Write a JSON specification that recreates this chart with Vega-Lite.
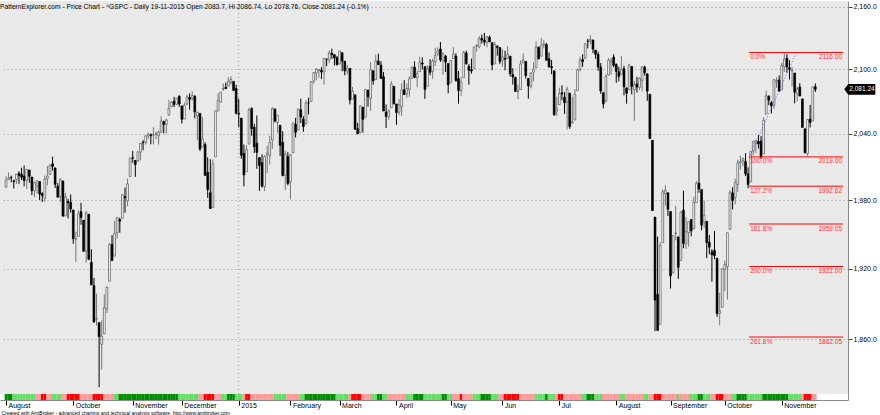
{
"$schema": "https://vega.github.io/schema/vega-lite/v6.json",
"autosize": {"type": "pad"},
"padding": {"left": 0, "top": 0, "right": 0, "bottom": 0},
"background": "white",
"bounds": "flush",
"spacing": 0,
"config": {"view": {"stroke": null}, "font": "Liberation Sans", "axis": {"labelFont": "Liberation Sans", "titleFont": "Liberation Sans"}},
"datasets": {
"bars": [
{"i":0,"o":1991.74,"h":2001.95,"l":1991.74,"c":1997.92,"r":"G"},
{"i":1,"o":1998.59,"h":2005.04,"l":1998.59,"c":2000.02,"r":"G"},
{"i":2,"o":2000.54,"h":2002.14,"l":1996.20,"c":2000.12,"r":"G"},
{"i":3,"o":1997.42,"h":1998.55,"l":1990.52,"c":1996.74,"r":"g"},
{"i":4,"o":1998.45,"h":2003.38,"l":1994.65,"c":2003.37,"r":"g"},
{"i":5,"o":2004.07,"h":2006.12,"l":1994.85,"c":2002.28,"r":"g"},
{"i":6,"o":2003.57,"h":2009.28,"l":1998.14,"c":2000.72,"r":"g"},
{"i":7,"o":2001.67,"h":2011.17,"l":1992.54,"c":1997.65,"r":"g"},
{"i":8,"o":1998.00,"h":2007.71,"l":1990.10,"c":2007.71,"r":"g"},
{"i":9,"o":2007.17,"h":2007.17,"l":1995.60,"c":2001.54,"r":"g"},
{"i":10,"o":2000.73,"h":2001.01,"l":1984.61,"c":1988.44,"r":"g"},
{"i":11,"o":1988.41,"h":1996.66,"l":1982.99,"c":1995.69,"r":"g"},
{"i":12,"o":1992.85,"h":1997.65,"l":1985.93,"c":1997.45,"r":"p"},
{"i":13,"o":1996.74,"h":1996.74,"l":1980.26,"c":1985.54,"r":"p"},
{"i":14,"o":1986.04,"h":1987.18,"l":1978.48,"c":1984.13,"r":"R"},
{"i":15,"o":1981.93,"h":2002.28,"l":1979.06,"c":1998.98,"r":"R"},
{"i":16,"o":1999.30,"h":2010.74,"l":1993.29,"c":2001.57,"r":"p"},
{"i":17,"o":2003.07,"h":2012.34,"l":2003.07,"c":2011.36,"r":"p"},
{"i":18,"o":2012.74,"h":2019.26,"l":2006.59,"c":2010.40,"r":"g"},
{"i":19,"o":2009.08,"h":2009.08,"l":1991.01,"c":1994.29,"r":"g"},
{"i":20,"o":1992.78,"h":1995.41,"l":1982.77,"c":1982.77,"r":"g"},
{"i":21,"o":1983.34,"h":1999.79,"l":1978.63,"c":1998.30,"r":"g"},
{"i":22,"o":1997.32,"h":1997.32,"l":1965.99,"c":1965.99,"r":"p"},
{"i":23,"o":1966.22,"h":1986.37,"l":1966.22,"c":1982.85,"r":"p"},
{"i":24,"o":1978.96,"h":1981.28,"l":1964.04,"c":1977.80,"r":"R"},
{"i":25,"o":1978.21,"h":1985.17,"l":1968.96,"c":1972.29,"r":"R"},
{"i":26,"o":1971.44,"h":1971.44,"l":1941.72,"c":1946.16,"r":"R"},
{"i":27,"o":1945.83,"h":1952.32,"l":1926.03,"c":1946.17,"r":"R"},
{"i":28,"o":1948.12,"h":1971.19,"l":1948.12,"c":1967.90,"r":"R"},
{"i":29,"o":1970.01,"h":1977.84,"l":1958.43,"c":1964.82,"r":"p"},
{"i":30,"o":1962.36,"h":1962.36,"l":1935.10,"c":1935.10,"r":"p"},
{"i":31,"o":1935.55,"h":1970.36,"l":1925.25,"c":1968.89,"r":"p"},
{"i":32,"o":1967.68,"h":1967.68,"l":1927.56,"c":1928.21,"r":"p"},
{"i":33,"o":1925.63,"h":1936.98,"l":1906.05,"c":1906.13,"r":"p"},
{"i":34,"o":1905.65,"h":1912.09,"l":1874.14,"c":1874.74,"r":"R"},
{"i":35,"o":1877.11,"h":1898.71,"l":1871.79,"c":1877.70,"r":"R"},
{"i":36,"o":1874.18,"h":1874.18,"l":1820.66,"c":1862.49,"r":"R"},
{"i":37,"o":1855.95,"h":1876.01,"l":1835.02,"c":1862.76,"r":"R"},
{"i":38,"o":1864.91,"h":1898.16,"l":1864.91,"c":1886.76,"r":"p"},
{"i":39,"o":1885.62,"h":1905.03,"l":1882.30,"c":1904.01,"r":"p"},
{"i":40,"o":1909.38,"h":1942.45,"l":1909.38,"c":1941.28,"r":"p"},
{"i":41,"o":1941.29,"h":1949.31,"l":1926.83,"c":1927.11,"r":"p"},
{"i":42,"o":1931.02,"h":1961.95,"l":1931.02,"c":1950.82,"r":"g"},
{"i":43,"o":1951.59,"h":1965.27,"l":1946.27,"c":1964.58,"r":"g"},
{"i":44,"o":1962.97,"h":1964.64,"l":1951.37,"c":1961.63,"r":"G"},
{"i":45,"o":1964.14,"h":1985.05,"l":1964.14,"c":1985.05,"r":"G"},
{"i":46,"o":1983.29,"h":1991.40,"l":1969.04,"c":1982.30,"r":"G"},
{"i":47,"o":1979.49,"h":1999.40,"l":1974.75,"c":1994.65,"r":"G"},
{"i":48,"o":2001.20,"h":2018.19,"l":2001.20,"c":2018.05,"r":"G"},
{"i":49,"o":2018.21,"h":2024.46,"l":2013.68,"c":2017.81,"r":"G"},
{"i":50,"o":2015.81,"h":2015.98,"l":2001.01,"c":2012.10,"r":"G"},
{"i":51,"o":2015.29,"h":2023.77,"l":2014.42,"c":2023.57,"r":"G"},
{"i":52,"o":2023.33,"h":2031.61,"l":2015.86,"c":2031.21,"r":"G"},
{"i":53,"o":2032.36,"h":2034.26,"l":2025.07,"c":2031.92,"r":"G"},
{"i":54,"o":2032.01,"h":2038.70,"l":2030.17,"c":2038.26,"r":"G"},
{"i":55,"o":2038.20,"h":2041.28,"l":2035.28,"c":2039.68,"r":"G"},
{"i":56,"o":2039.21,"h":2040.33,"l":2030.45,"c":2038.25,"r":"G"},
{"i":57,"o":2039.21,"h":2046.18,"l":2030.44,"c":2039.33,"r":"G"},
{"i":58,"o":2039.74,"h":2042.22,"l":2035.20,"c":2039.82,"r":"G"},
{"i":59,"o":2038.29,"h":2043.07,"l":2030.20,"c":2041.32,"r":"G"},
{"i":60,"o":2041.48,"h":2056.08,"l":2041.48,"c":2051.80,"r":"G"},
{"i":61,"o":2051.16,"h":2052.14,"l":2040.37,"c":2048.72,"r":"G"},
{"i":62,"o":2048.72,"h":2053.84,"l":2040.49,"c":2052.75,"r":"G"},
{"i":63,"o":2057.46,"h":2071.46,"l":2056.75,"c":2063.50,"r":"G"},
{"i":64,"o":2065.07,"h":2070.17,"l":2065.07,"c":2069.41,"r":"G"},
{"i":65,"o":2070.15,"h":2074.21,"l":2064.75,"c":2067.03,"r":"G"},
{"i":66,"o":2067.36,"h":2073.29,"l":2066.62,"c":2072.83,"r":"G"},
{"i":67,"o":2074.78,"h":2075.76,"l":2065.06,"c":2067.56,"r":"g"},
{"i":68,"o":2065.78,"h":2065.78,"l":2049.57,"c":2053.44,"r":"g"},
{"i":69,"o":2053.77,"h":2068.77,"l":2053.77,"c":2066.55,"r":"g"},
{"i":70,"o":2067.45,"h":2076.28,"l":2066.65,"c":2074.33,"r":"g"},
{"i":71,"o":2073.64,"h":2077.34,"l":2062.34,"c":2071.92,"r":"g"},
{"i":72,"o":2072.78,"h":2079.47,"l":2070.81,"c":2075.37,"r":"g"},
{"i":73,"o":2074.84,"h":2075.78,"l":2054.27,"c":2060.31,"r":"g"},
{"i":74,"o":2056.55,"h":2060.60,"l":2034.17,"c":2059.82,"r":"g"},
{"i":75,"o":2058.86,"h":2058.86,"l":2024.26,"c":2026.14,"r":"p"},
{"i":76,"o":2027.92,"h":2055.53,"l":2027.92,"c":2035.33,"r":"p"},
{"i":77,"o":2030.36,"h":2032.25,"l":2002.33,"c":2002.33,"r":"R"},
{"i":78,"o":2005.03,"h":2018.69,"l":1982.26,"c":1989.63,"r":"R"},
{"i":79,"o":1986.71,"h":2016.89,"l":1972.56,"c":1972.74,"r":"R"},
{"i":80,"o":1973.77,"h":2016.75,"l":1973.77,"c":2012.89,"r":"R"},
{"i":81,"o":2018.98,"h":2061.23,"l":2018.98,"c":2061.23,"r":"p"},
{"i":82,"o":2061.04,"h":2077.85,"l":2061.03,"c":2070.65,"r":"p"},
{"i":83,"o":2069.28,"h":2078.76,"l":2069.28,"c":2078.54,"r":"p"},
{"i":84,"o":2081.48,"h":2086.73,"l":2079.77,"c":2082.17,"r":"g"},
{"i":85,"o":2083.25,"h":2087.56,"l":2081.86,"c":2081.88,"r":"g"},
{"i":86,"o":2084.30,"h":2092.70,"l":2084.30,"c":2088.77,"r":"G"},
{"i":87,"o":2087.63,"h":2093.55,"l":2085.75,"c":2090.57,"r":"G"},
{"i":88,"o":2088.49,"h":2088.49,"l":2079.53,"c":2080.35,"r":"G"},
{"i":89,"o":2082.11,"h":2085.58,"l":2057.94,"c":2058.90,"r":"g"},
{"i":90,"o":2058.90,"h":2072.36,"l":2046.04,"c":2058.20,"r":"g"},
{"i":91,"o":2054.44,"h":2054.44,"l":2017.34,"c":2020.58,"r":"g"},
{"i":92,"o":2022.15,"h":2030.25,"l":1992.44,"c":2002.61,"r":"p"},
{"i":93,"o":2005.55,"h":2029.61,"l":2005.55,"c":2025.90,"r":"R"},
{"i":94,"o":2030.61,"h":2064.08,"l":2030.61,"c":2062.14,"r":"R"},
{"i":95,"o":2063.45,"h":2064.43,"l":2038.33,"c":2044.81,"r":"p"},
{"i":96,"o":2046.13,"h":2049.30,"l":2022.58,"c":2028.26,"r":"p"},
{"i":97,"o":2031.58,"h":2056.93,"l":2008.25,"c":2023.03,"r":"p"},
{"i":98,"o":2018.40,"h":2018.40,"l":1988.44,"c":2011.27,"r":"p"},
{"i":99,"o":2013.75,"h":2021.35,"l":1991.47,"c":1992.67,"r":"p"},
{"i":100,"o":1992.25,"h":2020.46,"l":1988.12,"c":2019.42,"r":"p"},
{"i":101,"o":2020.76,"h":2028.94,"l":2004.49,"c":2022.55,"r":"p"},
{"i":102,"o":2020.19,"h":2038.29,"l":2012.04,"c":2032.12,"r":"p"},
{"i":103,"o":2034.30,"h":2064.62,"l":2026.38,"c":2063.15,"r":"p"},
{"i":104,"o":2062.98,"h":2062.98,"l":2050.54,"c":2051.82,"r":"g"},
{"i":105,"o":2050.42,"h":2057.62,"l":2040.97,"c":2057.09,"r":"g"},
{"i":106,"o":2047.86,"h":2047.86,"l":2019.91,"c":2029.55,"r":"g"},
{"i":107,"o":2032.34,"h":2042.49,"l":2001.49,"c":2002.16,"r":"g"},
{"i":108,"o":2002.45,"h":2024.64,"l":1989.18,"c":2021.25,"r":"g"},
{"i":109,"o":2019.35,"h":2023.32,"l":1993.38,"c":1994.99,"r":"p"},
{"i":110,"o":1996.67,"h":2021.66,"l":1980.90,"c":2020.85,"r":"p"},
{"i":111,"o":2022.71,"h":2050.30,"l":2022.71,"c":2050.03,"r":"p"},
{"i":112,"o":2048.86,"h":2054.74,"l":2036.72,"c":2041.51,"r":"p"},
{"i":113,"o":2043.45,"h":2063.55,"l":2043.45,"c":2062.52,"r":"p"},
{"i":114,"o":2062.28,"h":2072.40,"l":2049.97,"c":2055.47,"r":"g"},
{"i":115,"o":2053.47,"h":2056.16,"l":2041.88,"c":2046.74,"r":"g"},
{"i":116,"o":2049.38,"h":2070.86,"l":2048.62,"c":2068.59,"r":"G"},
{"i":117,"o":2068.55,"h":2073.48,"l":2057.99,"c":2068.53,"r":"G"},
{"i":118,"o":2069.98,"h":2088.53,"l":2069.98,"c":2088.48,"r":"G"},
{"i":119,"o":2088.78,"h":2097.03,"l":2086.70,"c":2096.99,"r":"G"},
{"i":120,"o":2096.47,"h":2101.30,"l":2089.80,"c":2100.34,"r":"G"},
{"i":121,"o":2099.16,"h":2100.23,"l":2092.15,"c":2099.68,"r":"G"},
{"i":122,"o":2099.25,"h":2102.13,"l":2090.79,"c":2097.45,"r":"G"},
{"i":123,"o":2097.65,"h":2110.61,"l":2085.44,"c":2110.30,"r":"G"},
{"i":124,"o":2109.83,"h":2110.05,"l":2103.00,"c":2109.66,"r":"G"},
{"i":125,"o":2109.10,"h":2117.94,"l":2105.87,"c":2115.48,"r":"G"},
{"i":126,"o":2115.30,"h":2119.59,"l":2109.89,"c":2113.86,"r":"G"},
{"i":127,"o":2113.91,"h":2113.91,"l":2103.76,"c":2110.74,"r":"G"},
{"i":128,"o":2110.88,"h":2112.74,"l":2103.75,"c":2104.50,"r":"g"},
{"i":129,"o":2105.23,"h":2117.52,"l":2104.50,"c":2117.39,"r":"g"},
{"i":130,"o":2115.76,"h":2115.76,"l":2098.26,"c":2107.78,"r":"g"},
{"i":131,"o":2107.72,"h":2107.72,"l":2094.49,"c":2098.53,"r":"g"},
{"i":132,"o":2098.54,"h":2104.25,"l":2095.22,"c":2101.04,"r":"g"},
{"i":133,"o":2100.91,"h":2100.91,"l":2067.27,"c":2071.26,"r":"p"},
{"i":134,"o":2072.25,"h":2083.49,"l":2072.21,"c":2079.43,"r":"R"},
{"i":135,"o":2076.14,"h":2076.14,"l":2044.16,"c":2044.16,"r":"R"},
{"i":136,"o":2044.69,"h":2050.08,"l":2039.69,"c":2040.24,"r":"R"},
{"i":137,"o":2041.10,"h":2066.41,"l":2041.10,"c":2065.95,"r":"R"},
{"i":138,"o":2064.56,"h":2064.56,"l":2041.17,"c":2053.40,"r":"p"},
{"i":139,"o":2055.35,"h":2081.41,"l":2055.35,"c":2081.19,"r":"p"},
{"i":140,"o":2080.59,"h":2080.59,"l":2065.08,"c":2074.28,"r":"p"},
{"i":141,"o":2072.84,"h":2106.85,"l":2061.23,"c":2099.50,"r":"p"},
{"i":142,"o":2098.69,"h":2098.69,"l":2085.56,"c":2089.27,"r":"g"},
{"i":143,"o":2090.32,"h":2113.92,"l":2090.32,"c":2108.10,"r":"g"},
{"i":144,"o":2107.99,"h":2114.86,"l":2104.42,"c":2104.42,"r":"G"},
{"i":145,"o":2103.94,"h":2107.63,"l":2091.50,"c":2091.50,"r":"G"},
{"i":146,"o":2093.10,"h":2097.43,"l":2061.05,"c":2061.05,"r":"g"},
{"i":147,"o":2059.94,"h":2067.15,"l":2045.50,"c":2056.15,"r":"g"},
{"i":148,"o":2055.78,"h":2062.83,"l":2052.96,"c":2061.02,"r":"p"},
{"i":149,"o":2064.11,"h":2088.97,"l":2064.11,"c":2086.24,"r":"p"},
{"i":150,"o":2084.05,"h":2084.05,"l":2067.04,"c":2067.89,"r":"p"},
{"i":151,"o":2067.63,"h":2067.63,"l":2048.38,"c":2059.69,"r":"p"},
{"i":152,"o":2060.03,"h":2072.17,"l":2057.32,"c":2066.96,"r":"p"},
{"i":153,"o":2064.87,"h":2086.99,"l":2056.52,"c":2080.62,"r":"p"},
{"i":154,"o":2080.79,"h":2089.81,"l":2076.10,"c":2076.33,"r":"p"},
{"i":155,"o":2076.94,"h":2086.69,"l":2073.30,"c":2081.90,"r":"g"},
{"i":156,"o":2081.29,"h":2093.31,"l":2074.29,"c":2091.18,"r":"g"},
{"i":157,"o":2091.51,"h":2102.61,"l":2091.51,"c":2102.06,"r":"g"},
{"i":158,"o":2102.03,"h":2107.65,"l":2092.33,"c":2092.43,"r":"G"},
{"i":159,"o":2092.28,"h":2098.62,"l":2083.24,"c":2095.84,"r":"G"},
{"i":160,"o":2097.82,"h":2111.91,"l":2097.82,"c":2106.63,"r":"G"},
{"i":161,"o":2105.96,"h":2111.30,"l":2100.02,"c":2104.99,"r":"G"},
{"i":162,"o":2102.58,"h":2102.58,"l":2072.37,"c":2081.18,"r":"g"},
{"i":163,"o":2084.11,"h":2103.94,"l":2084.11,"c":2100.40,"r":"g"},
{"i":164,"o":2102.82,"h":2109.64,"l":2094.38,"c":2097.29,"r":"g"},
{"i":165,"o":2098.27,"h":2109.98,"l":2091.05,"c":2107.96,"r":"g"},
{"i":166,"o":2107.21,"h":2120.49,"l":2103.19,"c":2112.93,"r":"g"},
{"i":167,"o":2114.76,"h":2120.92,"l":2112.69,"c":2117.69,"r":"g"},
{"i":168,"o":2119.29,"h":2125.92,"l":2107.04,"c":2108.92,"r":"g"},
{"i":169,"o":2108.35,"h":2116.04,"l":2094.89,"c":2114.76,"r":"G"},
{"i":170,"o":2112.49,"h":2113.65,"l":2097.41,"c":2106.85,"r":"G"},
{"i":171,"o":2105.52,"h":2105.52,"l":2077.59,"c":2085.51,"r":"g"},
{"i":172,"o":2087.38,"h":2108.41,"l":2087.38,"c":2108.29,"r":"g"},
{"i":173,"o":2110.23,"h":2120.95,"l":2110.23,"c":2114.49,"r":"p"},
{"i":174,"o":2112.63,"h":2115.24,"l":2088.46,"c":2089.46,"r":"p"},
{"i":175,"o":2091.26,"h":2098.42,"l":2067.93,"c":2080.15,"r":"p"},
{"i":176,"o":2079.96,"h":2092.90,"l":2074.99,"c":2088.00,"r":"R"},
{"i":177,"o":2092.13,"h":2117.66,"l":2092.13,"c":2116.10,"r":"p"},
{"i":178,"o":2115.56,"h":2117.69,"l":2104.58,"c":2105.33,"r":"p"},
{"i":179,"o":2102.87,"h":2105.06,"l":2085.57,"c":2099.12,"r":"p"},
{"i":180,"o":2099.62,"h":2110.19,"l":2096.04,"c":2098.48,"r":"p"},
{"i":181,"o":2100.43,"h":2121.45,"l":2100.43,"c":2121.10,"r":"g"},
{"i":182,"o":2122.07,"h":2123.89,"l":2116.81,"c":2122.73,"r":"g"},
{"i":183,"o":2121.30,"h":2131.78,"l":2120.01,"c":2129.20,"r":"g"},
{"i":184,"o":2129.45,"h":2133.02,"l":2124.50,"c":2127.83,"r":"G"},
{"i":185,"o":2127.79,"h":2134.72,"l":2122.59,"c":2125.85,"r":"G"},
{"i":186,"o":2125.55,"h":2131.78,"l":2120.99,"c":2130.82,"r":"G"},
{"i":187,"o":2130.36,"h":2132.15,"l":2126.06,"c":2126.06,"r":"G"},
{"i":188,"o":2125.34,"h":2125.34,"l":2099.18,"c":2104.20,"r":"g"},
{"i":189,"o":2105.13,"h":2126.22,"l":2105.13,"c":2123.48,"r":"g"},
{"i":190,"o":2122.27,"h":2122.27,"l":2112.86,"c":2120.79,"r":"g"},
{"i":191,"o":2120.66,"h":2120.66,"l":2104.89,"c":2107.39,"r":"p"},
{"i":192,"o":2108.64,"h":2119.15,"l":2102.54,"c":2111.73,"r":"p"},
{"i":193,"o":2110.41,"h":2117.59,"l":2099.14,"c":2109.60,"r":"R"},
{"i":194,"o":2110.64,"h":2121.92,"l":2109.61,"c":2114.07,"r":"R"},
{"i":195,"o":2112.35,"h":2112.89,"l":2093.23,"c":2095.84,"r":"R"},
{"i":196,"o":2095.09,"h":2100.99,"l":2085.67,"c":2092.83,"r":"R"},
{"i":197,"o":2092.34,"h":2093.01,"l":2079.11,"c":2079.28,"r":"R"},
{"i":198,"o":2079.07,"h":2085.62,"l":2072.14,"c":2080.15,"r":"R"},
{"i":199,"o":2081.12,"h":2108.50,"l":2081.12,"c":2105.20,"r":"p"},
{"i":200,"o":2106.24,"h":2115.02,"l":2106.24,"c":2108.86,"r":"p"},
{"i":201,"o":2107.43,"h":2107.43,"l":2091.33,"c":2094.11,"r":"p"},
{"i":202,"o":2091.34,"h":2091.34,"l":2072.49,"c":2084.43,"r":"p"},
{"i":203,"o":2084.26,"h":2097.40,"l":2082.10,"c":2096.29,"r":"p"},
{"i":204,"o":2097.40,"h":2106.79,"l":2088.86,"c":2100.44,"r":"p"},
{"i":205,"o":2101.58,"h":2126.65,"l":2101.58,"c":2121.24,"r":"g"},
{"i":206,"o":2121.06,"h":2121.64,"l":2109.45,"c":2109.99,"r":"g"},
{"i":207,"o":2112.50,"h":2129.87,"l":2112.50,"c":2122.85,"r":"g"},
{"i":208,"o":2123.16,"h":2128.03,"l":2119.89,"c":2124.20,"r":"g"},
{"i":209,"o":2123.65,"h":2125.10,"l":2108.58,"c":2108.58,"r":"G"},
{"i":210,"o":2109.96,"h":2116.04,"l":2101.78,"c":2102.31,"r":"g"},
{"i":211,"o":2102.62,"h":2108.92,"l":2095.38,"c":2101.49,"r":"g"},
{"i":212,"o":2098.63,"h":2098.63,"l":2056.64,"c":2057.64,"r":"g"},
{"i":213,"o":2061.19,"h":2074.28,"l":2056.32,"c":2063.11,"r":"p"},
{"i":214,"o":2067.00,"h":2082.78,"l":2067.00,"c":2077.42,"r":"R"},
{"i":215,"o":2078.03,"h":2085.06,"l":2071.02,"c":2076.78,"r":"R"},
{"i":216,"o":2073.95,"h":2078.61,"l":2058.40,"c":2068.76,"r":"p"},
{"i":217,"o":2069.52,"h":2083.74,"l":2044.02,"c":2081.34,"r":"p"},
{"i":218,"o":2077.66,"h":2077.66,"l":2044.66,"c":2046.68,"r":"p"},
{"i":219,"o":2049.73,"h":2074.28,"l":2049.73,"c":2051.31,"r":"p"},
{"i":220,"o":2052.74,"h":2081.31,"l":2052.74,"c":2076.62,"r":"p"},
{"i":221,"o":2080.03,"h":2100.67,"l":2080.03,"c":2099.60,"r":"p"},
{"i":222,"o":2099.72,"h":2111.98,"l":2098.18,"c":2108.95,"r":"p"},
{"i":223,"o":2109.21,"h":2114.14,"l":2102.49,"c":2107.40,"r":"g"},
{"i":224,"o":2110.55,"h":2124.42,"l":2110.55,"c":2124.29,"r":"g"},
{"i":225,"o":2126.80,"h":2128.91,"l":2119.88,"c":2126.64,"r":"G"},
{"i":226,"o":2126.85,"h":2132.82,"l":2123.66,"c":2128.28,"r":"G"},
{"i":227,"o":2127.55,"h":2128.49,"l":2115.40,"c":2119.21,"r":"G"},
{"i":228,"o":2118.21,"h":2118.51,"l":2110.00,"c":2114.15,"r":"g"},
{"i":229,"o":2114.16,"h":2116.87,"l":2098.63,"c":2102.15,"r":"g"},
{"i":230,"o":2102.24,"h":2106.01,"l":2077.09,"c":2079.65,"r":"g"},
{"i":231,"o":2078.19,"h":2078.19,"l":2063.52,"c":2067.64,"r":"p"},
{"i":232,"o":2070.75,"h":2095.60,"l":2069.09,"c":2093.25,"r":"p"},
{"i":233,"o":2094.70,"h":2110.60,"l":2094.08,"c":2108.57,"r":"p"},
{"i":234,"o":2106.78,"h":2110.48,"l":2094.97,"c":2108.63,"r":"p"},
{"i":235,"o":2111.60,"h":2114.24,"l":2102.07,"c":2103.84,"r":"p"},
{"i":236,"o":2104.49,"h":2105.70,"l":2087.31,"c":2098.04,"r":"p"},
{"i":237,"o":2097.68,"h":2102.51,"l":2088.60,"c":2093.32,"r":"p"},
{"i":238,"o":2095.27,"h":2112.66,"l":2095.27,"c":2099.84,"r":"g"},
{"i":239,"o":2100.75,"h":2103.32,"l":2075.53,"c":2083.56,"r":"g"},
{"i":240,"o":2082.61,"h":2082.61,"l":2067.91,"c":2077.57,"r":"p"},
{"i":241,"o":2080.98,"h":2105.35,"l":2080.98,"c":2104.18,"r":"p"},
{"i":242,"o":2102.66,"h":2102.66,"l":2076.49,"c":2084.07,"r":"p"},
{"i":243,"o":2081.10,"h":2089.06,"l":2052.09,"c":2086.05,"r":"p"},
{"i":244,"o":2086.19,"h":2092.93,"l":2078.26,"c":2083.39,"r":"p"},
{"i":245,"o":2083.15,"h":2092.45,"l":2080.61,"c":2091.54,"r":"p"},
{"i":246,"o":2089.70,"h":2102.87,"l":2079.30,"c":2102.44,"r":"p"},
{"i":247,"o":2101.99,"h":2103.47,"l":2094.14,"c":2096.92,"r":"g"},
{"i":248,"o":2095.69,"h":2096.17,"l":2070.53,"c":2079.61,"r":"g"},
{"i":249,"o":2076.61,"h":2076.61,"l":2035.73,"c":2035.73,"r":"p"},
{"i":250,"o":2034.08,"h":2034.08,"l":1970.89,"c":1970.89,"r":"p"},
{"i":251,"o":1965.15,"h":1965.15,"l":1867.01,"c":1893.21,"r":"R"},
{"i":252,"o":1898.08,"h":1948.04,"l":1867.08,"c":1867.61,"r":"R"},
{"i":253,"o":1872.75,"h":1943.09,"l":1872.75,"c":1940.51,"r":"R"},
{"i":254,"o":1942.77,"h":1989.60,"l":1942.77,"c":1987.66,"r":"p"},
{"i":255,"o":1986.06,"h":1993.48,"l":1975.19,"c":1988.87,"r":"p"},
{"i":256,"o":1986.73,"h":1986.73,"l":1965.98,"c":1972.18,"r":"p"},
{"i":257,"o":1970.09,"h":1970.09,"l":1903.07,"c":1913.85,"r":"p"},
{"i":258,"o":1916.52,"h":1948.91,"l":1916.52,"c":1948.86,"r":"p"},
{"i":259,"o":1950.79,"h":1975.01,"l":1944.72,"c":1951.13,"r":"p"},
{"i":260,"o":1947.76,"h":1947.76,"l":1911.21,"c":1921.22,"r":"g"},
{"i":261,"o":1927.30,"h":1970.42,"l":1927.30,"c":1969.41,"r":"p"},
{"i":262,"o":1971.45,"h":1988.63,"l":1937.88,"c":1942.04,"r":"p"},
{"i":263,"o":1941.59,"h":1965.29,"l":1937.19,"c":1952.29,"r":"p"},
{"i":264,"o":1951.45,"h":1961.05,"l":1939.19,"c":1961.05,"r":"p"},
{"i":265,"o":1963.06,"h":1963.06,"l":1948.27,"c":1953.03,"r":"g"},
{"i":266,"o":1955.10,"h":1983.19,"l":1954.30,"c":1978.09,"r":"g"},
{"i":267,"o":1978.02,"h":1997.26,"l":1977.93,"c":1995.31,"r":"g"},
{"i":268,"o":1995.33,"h":2020.86,"l":1986.73,"c":1990.20,"r":"G"},
{"i":269,"o":1989.66,"h":1989.66,"l":1953.45,"c":1958.03,"r":"G"},
{"i":270,"o":1960.84,"h":1979.64,"l":1955.80,"c":1966.97,"r":"g"},
{"i":271,"o":1961.39,"h":1961.39,"l":1929.22,"c":1942.74,"r":"g"},
{"i":272,"o":1943.24,"h":1949.52,"l":1932.57,"c":1938.76,"r":"g"},
{"i":273,"o":1934.81,"h":1937.17,"l":1908.92,"c":1932.24,"r":"p"},
{"i":274,"o":1935.93,"h":1952.89,"l":1928.36,"c":1931.34,"r":"p"},
{"i":275,"o":1929.18,"h":1929.18,"l":1879.21,"c":1881.77,"r":"R"},
{"i":276,"o":1881.90,"h":1899.48,"l":1871.91,"c":1884.09,"r":"R"},
{"i":277,"o":1887.14,"h":1920.53,"l":1887.14,"c":1920.03,"r":"R"},
{"i":278,"o":1919.65,"h":1927.21,"l":1900.70,"c":1923.82,"r":"p"},
{"i":279,"o":1921.77,"h":1951.36,"l":1893.70,"c":1951.36,"r":"p"},
{"i":280,"o":1954.33,"h":1989.17,"l":1954.33,"c":1987.05,"r":"p"},
{"i":281,"o":1986.63,"h":1991.62,"l":1971.99,"c":1979.92,"r":"g"},
{"i":282,"o":1982.34,"h":1999.31,"l":1976.44,"c":1995.83,"r":"g"},
{"i":283,"o":1994.01,"h":2016.50,"l":1987.53,"c":2013.43,"r":"G"},
{"i":284,"o":2013.73,"h":2020.13,"l":2007.61,"c":2014.89,"r":"G"},
{"i":285,"o":2015.65,"h":2018.66,"l":2010.55,"c":2017.46,"r":"G"},
{"i":286,"o":2015.00,"h":2022.34,"l":2001.78,"c":2003.69,"r":"G"},
{"i":287,"o":2003.66,"h":2009.56,"l":1990.73,"c":1994.24,"r":"g"},
{"i":288,"o":1996.47,"h":2024.15,"l":1996.47,"c":2023.86,"r":"g"},
{"i":289,"o":2024.37,"h":2033.54,"l":2020.46,"c":2033.11,"r":"g"},
{"i":290,"o":2031.73,"h":2034.45,"l":2022.31,"c":2033.66,"r":"g"},
{"i":291,"o":2033.13,"h":2039.12,"l":2026.61,"c":2030.77,"r":"g"},
{"i":292,"o":2033.47,"h":2037.97,"l":2017.22,"c":2018.94,"r":"g"},
{"i":293,"o":2021.88,"h":2055.20,"l":2021.88,"c":2052.51,"r":"G"},
{"i":294,"o":2058.19,"h":2079.74,"l":2058.19,"c":2075.15,"r":"G"},
{"i":295,"o":2075.08,"h":2075.14,"l":2066.53,"c":2071.18,"r":"G"},
{"i":296,"o":2068.75,"h":2070.37,"l":2058.84,"c":2065.89,"r":"G"},
{"i":297,"o":2066.48,"h":2090.35,"l":2063.11,"c":2090.35,"r":"G"},
{"i":298,"o":2088.35,"h":2092.52,"l":2082.63,"c":2089.41,"r":"G"},
{"i":299,"o":2090.00,"h":2094.32,"l":2079.34,"c":2079.36,"r":"G"},
{"i":300,"o":2080.76,"h":2106.20,"l":2080.76,"c":2104.05,"r":"G"},
{"i":301,"o":2102.63,"h":2116.48,"l":2097.51,"c":2109.79,"r":"G"},
{"i":302,"o":2110.60,"h":2114.59,"l":2096.98,"c":2102.31,"r":"G"},
{"i":303,"o":2101.68,"h":2108.78,"l":2090.41,"c":2099.93,"r":"g"},
{"i":304,"o":2098.60,"h":2101.91,"l":2083.74,"c":2099.20,"r":"g"},
{"i":305,"o":2096.56,"h":2096.56,"l":2068.24,"c":2078.58,"r":"g"},
{"i":306,"o":2077.19,"h":2083.67,"l":2069.91,"c":2081.72,"r":"g"},
{"i":307,"o":2083.41,"h":2086.94,"l":2074.85,"c":2075.00,"r":"g"},
{"i":308,"o":2072.29,"h":2072.29,"l":2045.66,"c":2045.97,"r":"p"},
{"i":309,"o":2044.64,"h":2044.64,"l":2022.02,"c":2023.04,"r":"R"},
{"i":310,"o":2022.08,"h":2053.22,"l":2019.94,"c":2053.19,"r":"R"},
{"i":311,"o":2053.67,"h":2066.69,"l":2045.90,"c":2050.44,"r":"R"},
{"i":312,"o":2051.99,"h":2079.62,"l":2051.99,"c":2083.58,"r":"p"},
{"i":313,"o":2083.70,"h":2086.74,"l":2078.76,"c":2081.24,"r":"p"}
],
"fib": [
{"p":"0.0%","v":2116.00,"t":"2116.00"},
{"p":"100.0%","v":2019.00,"t":"2019.00"},
{"p":"127.2%","v":1992.62,"t":"1992.62"},
{"p":"161.8%","v":1959.05,"t":"1959.05"},
{"p":"200.0%","v":1922.00,"t":"1922.00"},
{"p":"261.8%","v":1862.05,"t":"1862.05"}
],
"trend": [
{"i":287.8,"v":2020.7},
{"i":305.8,"v":2116.7}
]
},
"vconcat": [
{
"width": 848,
"height": 393,
"view": {"fill": "#e9e9e9", "stroke": null},
"title": {"text": "PatternExplorer.com - Price Chart - ^GSPC - Daily 19-11-2015 Open 2083.7, Hi 2086.74, Lo 2078.76, Close 2081.24 (-0.1%)", "anchor": "start", "frame": "group", "offset": -10, "fontSize": 6.7, "fontWeight": "normal", "font": "Liberation Sans", "color": "#000"},
"layer": [
{
"data": {"values": [{}]},
"mark": {"type": "rule", "strokeDash": [1, 3], "color": "#999", "strokeWidth": 1},
"encoding": {"x": {"datum": 90, "type": "quantitative", "scale": {"domain": [-0.4, 323.7], "nice": false, "zero": false}, "axis": null}}
},
{
"data": {"name": "bars"},
"mark": {"type": "rule", "strokeWidth": 1},
"encoding": {
"x": {"field": "i", "type": "quantitative", "scale": {"domain": [-0.4, 323.7], "nice": false, "zero": false}, "axis": null},
"y": {"field": "l", "type": "quantitative", "title": null, "scale": {"type": "log", "domain": [1815, 2165.5], "nice": false}, "axis": {"orient": "right", "title": null, "values": [1860, 1920, 1980, 2040, 2100, 2160], "format": ",.1f", "grid": true, "gridDash": [1, 3], "gridColor": "#999", "domainColor": "#888", "tickColor": "#444", "tickSize": 4, "labelFontSize": 7, "labelColor": "#000", "labelPadding": 1}},
"y2": {"field": "h"},
"color": {"condition": {"test": "datum.c >= datum.o", "value": "#777"}, "value": "#000"}
}
},
{
"data": {"name": "bars"},
"mark": {"type": "bar", "size": 1.8, "strokeWidth": 0.7},
"encoding": {
"x": {"field": "i", "type": "quantitative", "scale": {"domain": [-0.4, 323.7], "nice": false, "zero": false}, "axis": null},
"y": {"field": "o", "type": "quantitative", "title": null, "scale": {"type": "log", "domain": [1815, 2165.5], "nice": false}},
"y2": {"field": "c"},
"fill": {"condition": {"test": "datum.c >= datum.o", "value": "#ffffff"}, "value": "#000000"},
"stroke": {"condition": {"test": "datum.c >= datum.o", "value": "#555"}, "value": "#000000"}
}
},
{
"data": {"name": "fib"},
"mark": {"type": "rule", "color": "#ff0000", "strokeWidth": 1},
"encoding": {
"x": {"datum": 287.4, "type": "quantitative", "scale": {"domain": [-0.4, 323.7], "nice": false, "zero": false}, "axis": null},
"x2": {"datum": 323.7},
"y": {"field": "v", "type": "quantitative", "title": null, "scale": {"type": "log", "domain": [1815, 2165.5], "nice": false}}
}
},
{
"data": {"name": "fib"},
"mark": {"type": "text", "align": "left", "baseline": "top", "dx": 1, "dy": 1.5, "fontSize": 6.5, "color": "#ff3030"},
"encoding": {
"x": {"datum": 287.4, "type": "quantitative", "scale": {"domain": [-0.4, 323.7], "nice": false, "zero": false}, "axis": null},
"y": {"field": "v", "type": "quantitative", "title": null, "scale": {"type": "log", "domain": [1815, 2165.5], "nice": false}},
"text": {"field": "p"}
}
},
{
"data": {"name": "fib"},
"mark": {"type": "text", "align": "right", "baseline": "top", "dx": -1, "dy": 1.5, "fontSize": 6.5, "color": "#ff3030"},
"encoding": {
"x": {"datum": 323.7, "type": "quantitative", "scale": {"domain": [-0.4, 323.7], "nice": false, "zero": false}, "axis": null},
"y": {"field": "v", "type": "quantitative", "title": null, "scale": {"type": "log", "domain": [1815, 2165.5], "nice": false}},
"text": {"field": "t"}
}
},
{
"data": {"name": "trend"},
"mark": {"type": "line", "color": "#5a5aff", "strokeWidth": 1, "strokeDash": [1, 2]},
"encoding": {
"x": {"field": "i", "type": "quantitative", "scale": {"domain": [-0.4, 323.7], "nice": false, "zero": false}, "axis": null},
"y": {"field": "v", "type": "quantitative", "title": null, "scale": {"type": "log", "domain": [1815, 2165.5], "nice": false}}
}
},
{
"data": {"name": "bars"},
"transform": [{"filter": "datum.i == 313"}],
"mark": {"type": "point", "shape": "M-0.94,0L-0.69,-0.34L1,-0.34L1,0.34L-0.69,0.34Z", "size": 1024, "filled": true, "color": "#000", "opacity": 1, "xOffset": 44},
"encoding": {
"x": {"field": "i", "type": "quantitative", "scale": {"domain": [-0.4, 323.7], "nice": false, "zero": false}, "axis": null},
"y": {"field": "c", "type": "quantitative", "title": null, "scale": {"type": "log", "domain": [1815, 2165.5], "nice": false}}
}
},
{
"data": {"name": "bars"},
"transform": [{"filter": "datum.i == 313"}],
"mark": {"type": "text", "align": "left", "baseline": "middle", "dx": 34, "fontSize": 6.5, "color": "#ffffff"},
"encoding": {
"x": {"field": "i", "type": "quantitative", "scale": {"domain": [-0.4, 323.7], "nice": false, "zero": false}, "axis": null},
"y": {"field": "c", "type": "quantitative", "title": null, "scale": {"type": "log", "domain": [1815, 2165.5], "nice": false}},
"text": {"field": "c", "format": ",.2f"}
}
}
]
},
{
"width": 848,
"height": 6,
"data": {"name": "bars"},
"mark": {"type": "bar", "size": 2.7},
"encoding": {
"x": {"field": "i", "type": "quantitative", "scale": {"domain": [-0.4, 323.7], "nice": false, "zero": false},
"axis": {"values": [0, 26, 49, 68, 90, 110, 129, 151, 172, 192, 214, 236, 257, 278, 300],
"labelExpr": "datum.value == 0 ? 'August' : datum.value == 26 ? 'October' : datum.value == 49 ? 'November' : datum.value == 68 ? 'December' : datum.value == 90 ? '2015' : datum.value == 110 ? 'February' : datum.value == 129 ? 'March' : datum.value == 151 ? 'April' : datum.value == 172 ? 'May' : datum.value == 192 ? 'Jun' : datum.value == 214 ? 'Jul' : datum.value == 236 ? 'August' : datum.value == 257 ? 'September' : datum.value == 278 ? 'October' : 'November'",
"labelAlign": "left", "labelOffset": 2, "labelBaseline": "top", "labelPadding": -4, "tickSize": 5, "tickColor": "#000", "domainColor": "#888", "labelFontSize": 7, "labelColor": "#000", "grid": false, "labelFlush": false, "labelOverlap": false, "labelBound": false,
"title": "Created with AmiBroker - advanced charting and technical analysis software. http://www.amibroker.com", "titleFontSize": 5, "titleFontWeight": "normal", "titleAnchor": "start", "titleAlign": "left", "titleX": 1, "titleY": 12, "titleBaseline": "middle", "titleColor": "#000"}},
"y": {"datum": 1, "type": "quantitative", "scale": {"domain": [0, 1], "nice": false}, "axis": {"orient": "right", "title": null, "labels": false, "ticks": false, "grid": false, "domainColor": "#888"}},
"y2": {"datum": 0},
"color": {"field": "r", "type": "nominal", "scale": {"domain": ["G", "g", "p", "R"], "range": ["#008c00", "#66dd66", "#ff9a9a", "#ff0000"]}, "legend": null}
}
}
]
}
